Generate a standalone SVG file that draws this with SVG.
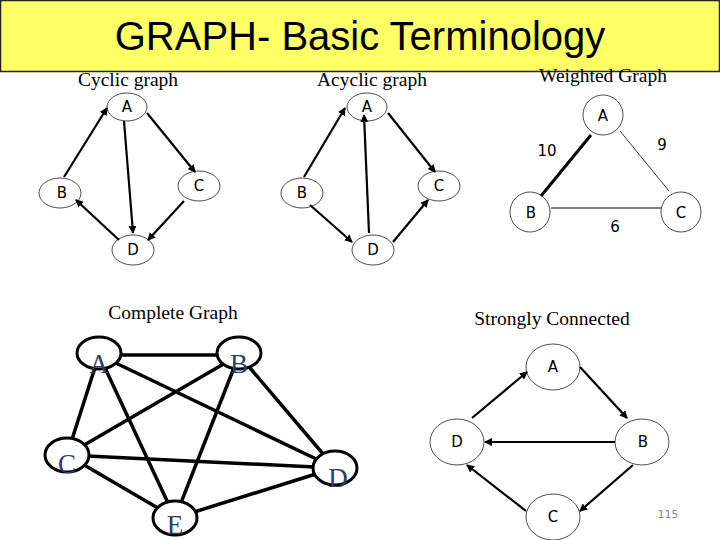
<svg xmlns="http://www.w3.org/2000/svg" width="720" height="540" viewBox="0 0 720 540">
<defs>
<marker id="ah" markerWidth="8" markerHeight="8" refX="7" refY="4" orient="auto" markerUnits="userSpaceOnUse"><path d="M0,0 L8,4 L0,8 z" fill="#000"/></marker>
<style>
.t{font-family:"Liberation Serif",serif;font-size:19.5px;fill:#000;text-anchor:middle}
.n{font-family:"DejaVu Sans",sans-serif;font-size:15px;fill:#000;text-anchor:middle}
.e{fill:none;stroke:#000;stroke-width:0.7}
.a{stroke:#000;stroke-width:2.2;marker-end:url(#ah)}
.k{fill:#fff;stroke:#000;stroke-width:3}
.kl{stroke:#000;stroke-width:3.5}
.cl{font-family:"Liberation Serif",serif;font-size:27px;fill:#2f3f5f;text-anchor:middle}
</style>
</defs>
<rect x="0" y="0" width="720" height="540" fill="#fff"/>
<rect x="0.5" y="0.5" width="719" height="71" fill="#ffff66" stroke="#222" stroke-width="1.5"/>
<text x="360" y="50" font-family="Liberation Sans,sans-serif" font-size="40" text-anchor="middle">GRAPH- Basic Terminology</text>
<text class="t" x="128" y="86">Cyclic graph</text>
<text class="t" x="372" y="86">Acyclic graph</text>
<text class="t" x="603" y="82">Weighted Graph</text>
<text class="t" x="173" y="319">Complete Graph</text>
<text class="t" x="552" y="325">Strongly Connected</text>
<text x="668" y="518" font-family="DejaVu Sans,sans-serif" font-size="11" fill="#888" text-anchor="middle">115</text>
<g id="connectors">
<line class="a" x1="64" y1="177" x2="107" y2="108"/>
<line class="a" x1="124" y1="121" x2="133" y2="233"/>
<line class="a" x1="147" y1="113" x2="195" y2="172"/>
<line class="a" x1="184" y1="201" x2="148" y2="240"/>
<line class="a" x1="119" y1="240" x2="76" y2="200"/>
<line class="a" x1="304" y1="177" x2="345" y2="108"/>
<line class="a" x1="369" y1="233" x2="364" y2="115"/>
<line class="a" x1="388" y1="113" x2="435" y2="172"/>
<line class="a" x1="310" y1="205" x2="352" y2="242"/>
<line class="a" x1="393" y1="242" x2="428" y2="200"/>
<line x1="591" y1="135" x2="541" y2="196" stroke="#000" stroke-width="3"/>
<line x1="620" y1="131" x2="669" y2="191" stroke="#000" stroke-width="0.8"/>
<line x1="551" y1="208" x2="661" y2="208" stroke="#000" stroke-width="1"/>
<g class="kl">
<line x1="99" y1="355" x2="239" y2="355"/>
<line x1="99" y1="355" x2="67" y2="455"/>
<line x1="99" y1="355" x2="335" y2="468"/>
<line x1="99" y1="355" x2="175" y2="518"/>
<line x1="239" y1="355" x2="67" y2="455"/>
<line x1="239" y1="355" x2="335" y2="468"/>
<line x1="239" y1="355" x2="175" y2="518"/>
<line x1="67" y1="455" x2="335" y2="468"/>
<line x1="67" y1="455" x2="175" y2="518"/>
<line x1="175" y1="518" x2="335" y2="468"/>
</g>
<line class="a" x1="472" y1="418" x2="527" y2="372"/>
<line class="a" x1="580" y1="367" x2="627" y2="418"/>
<line class="a" x1="615" y1="442" x2="485" y2="442"/>
<line class="a" x1="633" y1="465" x2="580" y2="511"/>
<line class="a" x1="526" y1="511" x2="467" y2="465"/>
</g>
<text class="n" x="547" y="156">10</text>
<text class="n" x="662" y="150">9</text>
<text class="n" x="615" y="232">6</text>
<g id="cyc-A"><ellipse class="e" cx="127" cy="107" rx="20" ry="14"/><text class="n" x="127" y="112">A</text></g>
<g id="cyc-B"><ellipse class="e" cx="60" cy="193" rx="21" ry="15"/><text class="n" x="62" y="198">B</text></g>
<g id="cyc-C"><ellipse class="e" cx="199" cy="186" rx="21" ry="15"/><text class="n" x="199" y="191">C</text></g>
<g id="cyc-D"><ellipse class="e" cx="133" cy="250" rx="21" ry="15"/><text class="n" x="133" y="255">D</text></g>
<g id="acy-A"><ellipse class="e" cx="367" cy="107" rx="20" ry="14"/><text class="n" x="367" y="112">A</text></g>
<g id="acy-B"><ellipse class="e" cx="302" cy="193" rx="21" ry="15"/><text class="n" x="302" y="198">B</text></g>
<g id="acy-C"><ellipse class="e" cx="439" cy="186" rx="21" ry="15"/><text class="n" x="439" y="191">C</text></g>
<g id="acy-D"><ellipse class="e" cx="373" cy="250" rx="21" ry="15"/><text class="n" x="373" y="255">D</text></g>
<g id="w-A"><circle class="e" cx="603" cy="115" r="20"/><text class="n" x="603" y="121">A</text></g>
<g id="w-B"><circle class="e" cx="530" cy="212" r="20"/><text class="n" x="531" y="218">B</text></g>
<g id="w-C"><circle class="e" cx="681" cy="212" r="20"/><text class="n" x="681" y="218">C</text></g>
<g id="c-A"><ellipse class="k" cx="99" cy="353" rx="22" ry="16"/><text class="cl" x="99" y="373">A</text></g>
<g id="c-B"><ellipse class="k" cx="239" cy="353" rx="22" ry="16"/><text class="cl" x="239" y="373">B</text></g>
<g id="c-C"><ellipse class="k" cx="67" cy="455" rx="22" ry="17"/><text class="cl" x="67" y="473">C</text></g>
<g id="c-D"><ellipse class="k" cx="335" cy="468" rx="22" ry="17"/><text class="cl" x="338" y="487">D</text></g>
<g id="c-E"><ellipse class="k" cx="175" cy="518" rx="22" ry="17"/><text class="cl" x="175" y="534">E</text></g>
<g id="s-A"><ellipse class="e" cx="553" cy="367" rx="27" ry="23"/><text class="n" x="553" y="372">A</text></g>
<g id="s-B"><ellipse class="e" cx="642" cy="442" rx="27" ry="23"/><text class="n" x="643" y="447">B</text></g>
<g id="s-C"><ellipse class="e" cx="553" cy="517" rx="27" ry="23"/><text class="n" x="553" y="522">C</text></g>
<g id="s-D"><ellipse class="e" cx="457" cy="442" rx="27" ry="23"/><text class="n" x="457" y="447">D</text></g>
</svg>
